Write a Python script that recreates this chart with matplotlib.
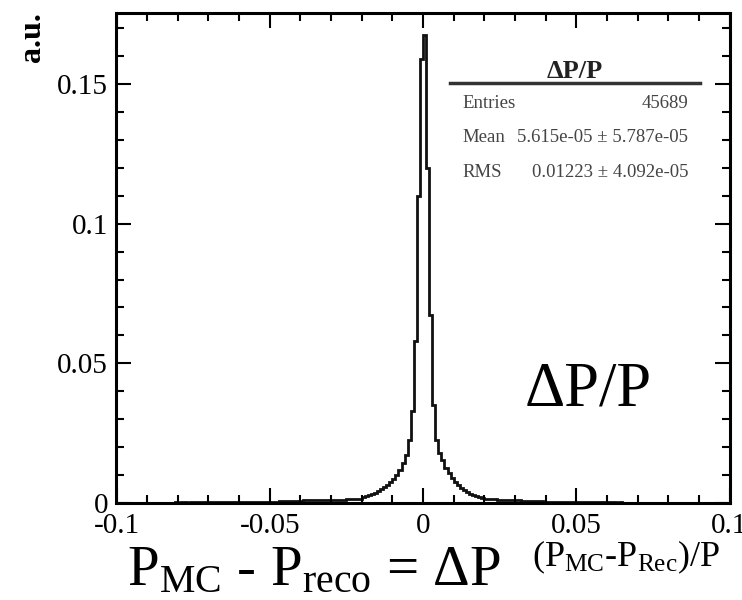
import matplotlib
matplotlib.use("Agg")
import matplotlib.pyplot as plt
import numpy as np
from matplotlib.lines import Line2D

plt.rcParams['font.family'] = ['Liberation Serif', 'DejaVu Serif']
plt.rcParams['mathtext.fontset'] = 'custom'
plt.rcParams['mathtext.rm'] = 'Liberation Serif'
plt.rcParams['mathtext.it'] = 'Liberation Serif:italic'

# dP/P histogram, 200 bins from -0.1 to 0.1 (normalised, a.u.)
x_lo, x_hi, n_bins = -0.1, 0.1, 200
dpp_values = [
    0.0001, 0.0001, 0.0001, 0.0001, 0.0001, 0.0001, 0.0001, 0.0001, 0.0001, 0.0001,
    0.0001, 0.0001, 0.0001, 0.0001, 0.0001, 0.0001, 0.0001, 0.0001, 0.0001, 0.0002,
    0.0001, 0.0002, 0.0002, 0.0001, 0.0002, 0.0002, 0.0002, 0.0002, 0.0002, 0.0002,
    0.0002, 0.0002, 0.0002, 0.0002, 0.0002, 0.0003, 0.0002, 0.0003, 0.0003, 0.0003,
    0.0003, 0.0003, 0.0003, 0.0003, 0.0004, 0.0003, 0.0004, 0.0004, 0.0004, 0.0004,
    0.0005, 0.0005, 0.0005, 0.0006, 0.0006, 0.0006, 0.0007, 0.0007, 0.0008, 0.0008,
    0.0008, 0.0009, 0.0009, 0.0010, 0.0009, 0.0010, 0.0010, 0.0011, 0.0010, 0.0011,
    0.0011, 0.0012, 0.0011, 0.0012, 0.0012, 0.0013, 0.0013, 0.0014, 0.0015, 0.0016,
    0.0020, 0.0025, 0.0029, 0.0032, 0.0036, 0.0043, 0.0050, 0.0057, 0.0064, 0.0075,
    0.0086, 0.0100, 0.0118, 0.0143, 0.0172, 0.0226, 0.0330, 0.0580, 0.1100, 0.1590,
    0.1676, 0.1200, 0.0673, 0.0350, 0.0226, 0.0180, 0.0154, 0.0125, 0.0107, 0.0090,
    0.0075, 0.0064, 0.0054, 0.0047, 0.0039, 0.0032, 0.0029, 0.0025, 0.0021, 0.0018,
    0.0016, 0.0015, 0.0014, 0.0013, 0.0012, 0.0012, 0.0011, 0.0011, 0.0010, 0.0010,
    0.0009, 0.0009, 0.0008, 0.0008, 0.0007, 0.0007, 0.0006, 0.0006, 0.0006, 0.0005,
    0.0005, 0.0005, 0.0004, 0.0004, 0.0004, 0.0004, 0.0003, 0.0003, 0.0003, 0.0003,
    0.0003, 0.0003, 0.0002, 0.0003, 0.0002, 0.0002, 0.0002, 0.0002, 0.0002, 0.0002,
    0.0002, 0.0002, 0.0002, 0.0001, 0.0002, 0.0001, 0.0001, 0.0001, 0.0001, 0.0001,
    0.0001, 0.0001, 0.0001, 0.0001, 0.0001, 0.0001, 0.0001, 0.0001, 0.0001, 0.0001,
    0.0001, 0.0001, 0.0001, 0.0001, 0.0001, 0.0001, 0.0001, 0.0001, 0.0001, 0.0001,
    0.0001, 0.0001, 0.0001, 0.0001, 0.0001, 0.0001, 0.0001, 0.0001, 0.0001, 0.0001,
]

x_ticks = [-0.1, -0.05, 0, 0.05, 0.1]
x_tick_labels = ['-0.1', '-0.05', '0', '0.05', '0.1']
y_ticks = [0, 0.05, 0.1, 0.15]
y_tick_labels = ['0', '0.05', '0.1', '0.15']

stats_title = 'ΔP/P'
stats_rows = [('Entries', '45689'),
              ('Mean', '5.615e-05 ± 5.787e-05'),
              ('RMS', '0.01223 ± 4.092e-05')]

W, H = 742, 600
fig = plt.figure(figsize=(W / 100, H / 100), dpi=100)
ax = fig.add_axes([116.5 / W, 97 / H, 613 / W, 490 / H])

edges = np.linspace(x_lo, x_hi, n_bins + 1)
ax.stairs(dpp_values, edges, color='#111111', lw=2.0)

ax.set_xlim(x_lo, x_hi)
ax.set_ylim(0, 0.1754)
ax.set_xticks(x_ticks)
ax.set_xticklabels(x_tick_labels)
ax.set_yticks(y_ticks)
ax.set_yticklabels(y_tick_labels)
ax.set_xticks(np.arange(-0.1, 0.1001, 0.01), minor=True)
ax.set_yticks(np.arange(0, 0.175, 0.01), minor=True)
ax.tick_params(which='both', direction='in', top=True, right=True,
               width=1.5, labelsize=21)
ax.tick_params(which='major', length=11)
ax.tick_params(which='minor', length=6)
ax.tick_params(axis='x', pad=7)
ax.tick_params(axis='y', pad=6)
for s in ax.spines.values():
    s.set_linewidth(2.2)

# axis titles
fig.text(18 / W, 1 - 12 / H, 'a.u.', rotation=90, ha='left', va='top',
         fontsize=23, fontweight='bold')
fig.text(532 / W, 1 - 566 / H, r'(P$_{\mathrm{MC}}$-P$_{\mathrm{Rec}}$)/P',
         fontsize=26, ha='left', va='baseline')

# stats box
fig.text(575 / W, 1 - 78 / H, stats_title, fontsize=19, fontweight='bold',
         ha='center', va='baseline', color='#222222')
fig.add_artist(Line2D([450 / W, 700 / W], [1 - 83 / H, 1 - 83 / H],
                      color='#333333', lw=2.5))
for k, (name, val) in enumerate(stats_rows):
    yb = 1 - (108 + 34.5 * k) / H
    fig.text(462 / W, yb, name, fontsize=13.5, color='#444444', va='baseline')
    fig.text(688 / W, yb, val, fontsize=13.5, color='#444444', va='baseline',
             ha='right')

# large annotations
fig.text(525 / W, 1 - 405 / H, 'ΔP/P', fontsize=45, ha='left', va='baseline')
fig.text(127 / W, 1 - 585 / H,
         r'P$_{\mathrm{MC}}$ - P$_{\mathrm{reco}}$ = ΔP',
         fontsize=41, ha='left', va='baseline')

fig.savefig('out.png', dpi=100)
